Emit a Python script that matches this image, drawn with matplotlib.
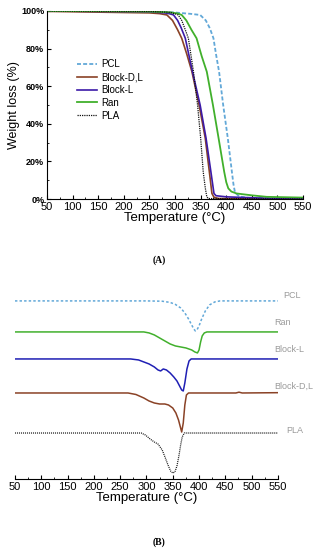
import numpy as np
import matplotlib
matplotlib.use("Agg")
import matplotlib.pyplot as plt
from matplotlib.ticker import MultipleLocator, FuncFormatter

plt.rcParams['font.family'] = ['Liberation Sans', 'DejaVu Sans']

# --- (A) TGA curves: temperature (°C) vs weight remaining (%) ---
pcl_t = [50, 150, 250, 300, 330, 349, 360, 368, 375, 380, 386, 394, 403, 411, 414, 417, 425, 440, 550]
pcl_w = [100, 99.9, 99.8, 99.2, 98.5, 97.9, 95, 90.8, 85.5, 77, 67.7, 50, 32.4, 14.5, 8, 3.6, 1.5, 0.7, 0.3]

bdl_t = [50, 150, 250, 270, 284, 295, 305, 313, 323, 333, 347, 359, 367, 372, 376, 385, 550]
bdl_w = [99.8, 99.4, 99, 98.6, 97.9, 95, 90, 85.5, 77, 67.7, 50, 32.4, 14.5, 3, 1, 0.3, 0]

bl_t = [50, 150, 250, 280, 290, 297, 305, 312, 320, 334, 349, 360.5, 370, 376, 380, 400, 450, 500, 550]
bl_w = [100, 99.8, 99.6, 99, 98.5, 97.9, 95, 91, 85.5, 67.7, 50, 32.4, 14.5, 3, 1.8, 1.2, 0.7, 0.3, 0.2]

ran_t = [50, 150, 250, 290, 305, 313, 322, 332, 342, 352, 362, 374, 385, 396, 400, 404, 410, 420, 450, 479, 550]
ran_w = [100, 99.9, 99.7, 99.3, 98.7, 97.9, 95, 90, 85.5, 76, 67.7, 50, 32.4, 14.5, 9, 5.7, 4, 3, 2, 1.2, 0.8]

pla_t = [50, 150, 250, 290, 300, 306, 313, 320, 326, 336, 344, 350, 355, 359, 362, 365, 550]
pla_w = [100, 99.9, 99.8, 99.3, 98.5, 97.9, 95, 90, 85.5, 67.7, 50, 32.4, 14.5, 6, 1.2, 0.3, 0]

# --- (B) DTG curves: dip depth below each baseline ---
pcl_dt = [50, 300, 330, 345, 355, 365, 373, 380, 386, 390, 393, 396, 400, 405, 412, 420, 430, 440, 550]
pcl_dv = [0, 0, -0.3, -1.5, -3.5, -7, -12, -18, -24, -28, -30, -29, -25, -18, -10, -4, -1, 0, 0]

ran_dt = [50, 295, 305, 315, 325, 335, 345, 355, 365, 375, 386, 392, 397, 400, 403, 406, 410, 415, 550]
ran_dv = [0, 0, -1, -3, -6, -9, -12, -14, -15, -16, -18, -20, -21, -18, -10, -4, -1, 0, 0]

bl_dt = [50, 270, 285, 295, 305, 315, 322, 327, 332, 338, 345, 352, 358, 363, 367, 370, 373, 377, 381, 385, 550]
bl_dv = [0, 0, -1, -3, -5, -8, -11, -12, -10, -11, -14, -18, -22, -27, -31, -32, -24, -10, -2, 0, 0]

bdl_dt = [50, 265, 280, 295, 305, 315, 325, 335, 342, 350, 356, 361, 365, 367, 370, 373, 376, 380, 470, 476, 482, 550]
bdl_dv = [0, 0, -1.5, -5, -8, -10, -11, -11, -12, -15, -20, -27, -35, -39, -30, -12, -2, 0, 0, 0.8, 0, 0.3]

pla_dt = [50, 290, 298, 307, 315, 322, 330, 336, 341, 346, 350, 354, 358, 362, 365, 368, 372, 550]
pla_dv = [0, 0, -2, -6, -9, -11, -17, -25, -32, -38, -40, -39, -33, -22, -12, -4, 0, 0]

labels = ["PCL", "Block-D,L", "Block-L", "Ran", "PLA"]

C_PCL = "#62a8d8"
C_BDL = "#8a4226"
C_BL = "#3c1aa8"
C_BL_B = "#1f1fb4"
C_RAN = "#41b02c"
C_PLA = "#111111"

fig = plt.figure(figsize=(3.18, 5.5), dpi=100)

# ---------------- panel A ----------------
axA = fig.add_axes([0.148, 0.638, 0.805, 0.342])
axA.plot(pcl_t, pcl_w, color=C_PCL, ls=(0, (2.2, 1.2)), lw=1.3, label=labels[0])
axA.plot(bdl_t, bdl_w, color=C_BDL, lw=1.2, label=labels[1])
axA.plot(bl_t, bl_w, color=C_BL, lw=1.2, label=labels[2])
axA.plot(ran_t, ran_w, color=C_RAN, lw=1.3, label=labels[3])
axA.plot(pla_t, pla_w, color=C_PLA, ls=(0, (1, 0.8)), lw=0.9, label=labels[4])

axA.set_xlim(50, 550)
axA.set_ylim(0, 100)
axA.xaxis.set_major_locator(MultipleLocator(50))
axA.xaxis.set_minor_locator(MultipleLocator(25))
axA.yaxis.set_major_locator(MultipleLocator(20))
axA.yaxis.set_minor_locator(MultipleLocator(10))
axA.yaxis.set_major_formatter(FuncFormatter(lambda v, p: f"{int(v)}%"))
axA.tick_params(direction="in", which="both", labelsize=8, pad=2)
axA.tick_params(which="major", length=3)
axA.tick_params(which="minor", length=1.5)
for lab in axA.get_yticklabels():
    lab.set_fontweight("bold")
    lab.set_fontsize(6.5)
for s in ("top", "right"):
    axA.spines[s].set_visible(False)
axA.set_xlabel("Temperature (°C)", fontsize=9.5, labelpad=0)
axA.set_ylabel("Weight loss (%)", fontsize=9, labelpad=1)
axA.legend(loc="upper left", bbox_to_anchor=(0.1, 0.765), frameon=False, fontsize=7,
           handlelength=2.1, handletextpad=0.4, labelspacing=0.3, borderaxespad=0)

fig.text(0.5, 0.527, "(A)", ha="center", va="center", fontsize=7, fontweight="bold",
         family="Liberation Serif")

# ---------------- panel B ----------------
axB = fig.add_axes([0.047, 0.129, 0.827, 0.353])
offsets = [178, 147, 120, 86, 46]
axB.plot(pcl_dt, np.array(pcl_dv) + offsets[0], color=C_PCL, ls=(0, (1.6, 1.4)), lw=1.1)
axB.plot(ran_dt, np.array(ran_dv) + offsets[1], color=C_RAN, lw=1.1)
axB.plot(bl_dt, np.array(bl_dv) + offsets[2], color=C_BL_B, lw=1.1)
axB.plot(bdl_dt, np.array(bdl_dv) + offsets[3], color=C_BDL, lw=1.1)
axB.plot(pla_dt, np.array(pla_dv) + offsets[4], color=C_PLA, ls=(0, (0.8, 0.8)), lw=0.9)

axB.set_xlim(50, 550)
axB.set_ylim(0, 194)
axB.set_yticks([])
for s in ("top", "right", "left"):
    axB.spines[s].set_visible(False)
axB.xaxis.set_major_locator(MultipleLocator(50))
axB.xaxis.set_minor_locator(MultipleLocator(25))
axB.tick_params(direction="in", which="both", labelsize=8, pad=2)
axB.tick_params(which="major", length=3)
axB.tick_params(which="minor", length=1.5)
axB.set_xlabel("Temperature (°C)", fontsize=9.5, labelpad=0)

gray = "#9a9a9a"
axB.text(560, offsets[0] + 5, "PCL", color=gray, fontsize=6.5, clip_on=False, va="center")
axB.text(543, offsets[1] + 9, "Ran", color=gray, fontsize=6.5, clip_on=False, va="center")
axB.text(543, offsets[2] + 9, "Block-L", color=gray, fontsize=6.5, clip_on=False, va="center")
axB.text(543, offsets[3] + 7, "Block-D,L", color=gray, fontsize=6.5, clip_on=False, va="center")
axB.text(565, offsets[4] + 3, "PLA", color=gray, fontsize=6.5, clip_on=False, va="center")

fig.text(0.5, 0.015, "(B)", ha="center", va="center", fontsize=7, fontweight="bold",
         family="Liberation Serif")

fig.savefig("out.png", dpi=100)
